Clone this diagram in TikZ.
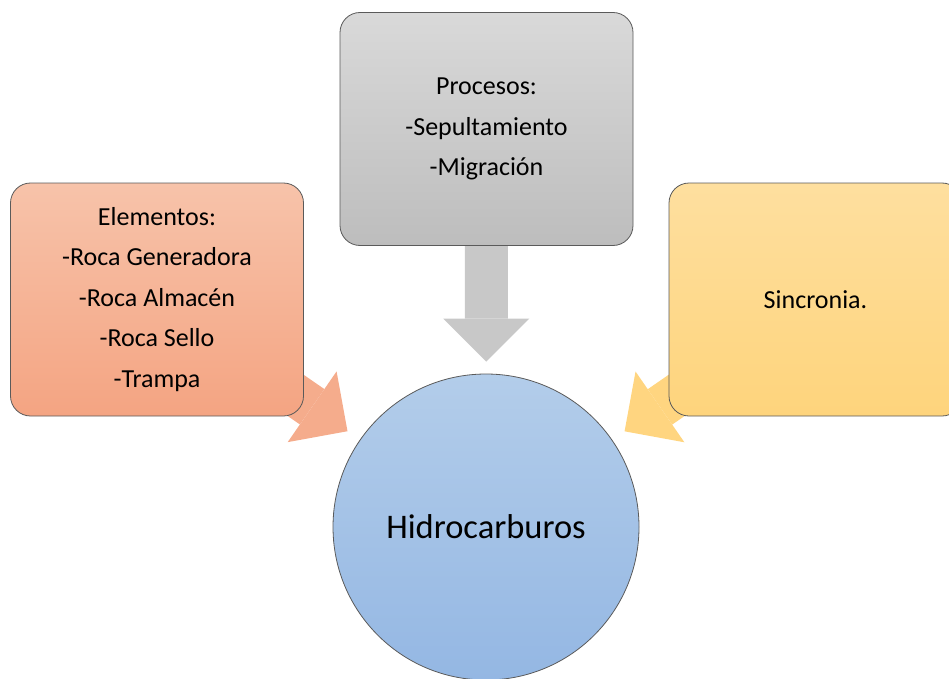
\documentclass[tikz,border=0pt]{standalone}
\usepackage{fontspec}
\setmainfont{Carlito}
\usepackage{tikz}
\usetikzlibrary{positioning,arrows.meta,backgrounds,calc}
\definecolor{salmonTop}{HTML}{F7C3AA}
\definecolor{salmonBot}{HTML}{F4A482}
\definecolor{salmonArr}{HTML}{F5AC8C}
\definecolor{greyTop}{HTML}{D9D9D9}
\definecolor{greyBot}{HTML}{BDBDBD}
\definecolor{greyArr}{HTML}{C8C8C8}
\definecolor{goldTop}{HTML}{FEDF9F}
\definecolor{goldBot}{HTML}{FED47C}
\definecolor{goldArr}{HTML}{FFD580}
\definecolor{skyTop}{HTML}{B3CDEA}
\definecolor{skyBot}{HTML}{94B7E3}
\definecolor{edgeGrey}{HTML}{5A5A5A}

\begin{document}
\begin{tikzpicture}[x=1pt, y=-1pt,
    box/.style={rectangle, rounded corners=20pt, draw=edgeGrey, line width=0.8pt, inner sep=0pt, minimum width=293pt, minimum height=233pt, align=center, font=\fontsize{26}{40.5}\selectfont},
    hubCircle/.style={circle, draw=edgeGrey, line width=0.8pt, inner sep=0pt, minimum size=306pt, top color=skyTop, bottom color=skyBot, font=\fontsize{34.5}{40}\selectfont},
    blockArrow/.style={line width=43pt, -{Triangle[length=43pt, width=86pt, line width=0pt]}}
]
    \useasboundingbox (0,0) rectangle (949,679);

    % Node 1: Elementos
    \node[box, top color=salmonTop, bottom color=salmonBot] (elem) at (157,299.5) {
        Elementos:\\
        -Roca Generadora\\
        -Roca Almacén\\
        -Roca Sello\\
        -Trampa
    };

    % Node 2: Procesos
    \node[box, top color=greyTop, bottom color=greyBot] (proc) at (486.5,129) {
        Procesos:\\
        -Sepultamiento\\
        -Migración
    };

    % Node 3: Sincronia
    \node[box, top color=goldTop, bottom color=goldBot] (sync) at (815.5,299.5) {Sincronia.};

    % Node 4: Hidrocarburos
    \node[hubCircle] (hidro) at (486,527) {Hidrocarburos};

    % Block arrows (behind the boxes)
    \begin{scope}[on background layer]
        \draw[blockArrow, draw=salmonArr, shorten >=15pt] (elem.center) -- (hidro);
        \draw[blockArrow, draw=greyArr, shorten >=12pt] (proc.center) -- (hidro);
        \draw[blockArrow, draw=goldArr, shorten >=15pt] (sync.center) -- (hidro);
    \end{scope}

\end{tikzpicture}
\end{document}
